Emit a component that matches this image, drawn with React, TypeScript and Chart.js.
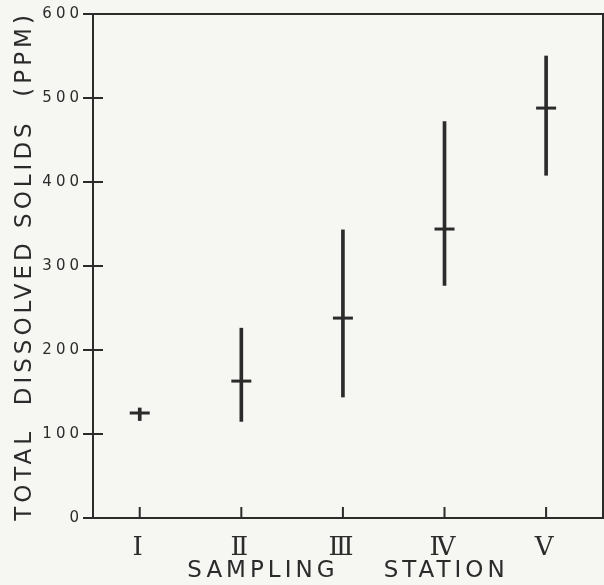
import React, { useEffect, useRef } from "react";
import { Chart, registerables } from "chart.js";

Chart.register(...registerables);

const STATIONS = ["Ⅰ", "Ⅱ", "Ⅲ", "Ⅳ", "Ⅴ"];
const MEAN = [125, 163, 238, 344, 488];
const LOW = [116, 115, 144, 277, 408];
const HIGH = [131, 226, 343, 472, 550];
const Y_TICKS = [0, 100, 200, 300, 400, 500, 600];

const INK = "#2b2b2b";
const PAPER = "#f6f6f3";

const framePlugin = {
  id: "frame",
  beforeDraw(chart: any) {
    const ctx = chart.ctx;
    ctx.save();
    ctx.fillStyle = PAPER;
    ctx.fillRect(0, 0, chart.width, chart.height);
    ctx.restore();
    ctx.letterSpacing = "4px";
  },
  afterDraw(chart: any) {
    const { ctx, chartArea, scales } = chart;
    ctx.save();
    ctx.strokeStyle = INK;
    ctx.lineWidth = 2;
    ctx.strokeRect(chartArea.left, chartArea.top, chartArea.right - chartArea.left, chartArea.bottom - chartArea.top);
    ctx.beginPath();
    Y_TICKS.forEach((v) => {
      if (v === 0 || v === 600) return;
      const y = scales.y.getPixelForValue(v);
      ctx.moveTo(chartArea.left, y);
      ctx.lineTo(chartArea.left + 10, y);
    });
    STATIONS.forEach((_, i) => {
      const x = scales.x.getPixelForValue(i + 1);
      ctx.moveTo(x, chartArea.bottom);
      ctx.lineTo(x, chartArea.bottom - 11);
    });
    ctx.stroke();
    ctx.restore();
  },
};

export default function App() {
  const ref = useRef<HTMLCanvasElement>(null);
  useEffect(() => {
    if (!ref.current) return;
    const chart = new Chart(ref.current, {
      type: "bar",
      data: {
        datasets: [
          {
            type: "bar",
            data: STATIONS.map((_, i) => ({ x: i + 1, y: [LOW[i], HIGH[i]] })) as any,
            backgroundColor: INK,
            borderWidth: 0,
            barThickness: 3,
          } as any,
          {
            type: "scatter",
            data: STATIONS.map((_, i) => ({ x: i + 1, y: MEAN[i] })),
            pointStyle: "line",
            pointRadius: 10,
            pointHoverRadius: 10,
            borderWidth: 3,
            borderColor: INK,
            backgroundColor: INK,
            showLine: false,
          } as any,
        ],
      },
      options: {
        responsive: false,
        animation: false,
        events: [],
        layout: { autoPadding: false, padding: { top: 14, right: 1, bottom: 0, left: 0 } },
        plugins: { legend: { display: false }, tooltip: { enabled: false } },
        scales: {
          x: {
            type: "linear",
            offset: false,
            min: 0.54,
            max: 5.56,
            afterBuildTicks: (axis: any) => {
              axis.ticks = STATIONS.map((_, i) => ({ value: i + 1 }));
            },
            afterFit: (axis: any) => {
              axis.height = 67;
              axis.paddingLeft = 0;
              axis.paddingRight = 0;
            },
            grid: { display: false, offset: false },
            border: { display: false },
            ticks: {
              autoSkip: false,
              maxRotation: 0,
              padding: 7,
              color: INK,
              font: { family: "DejaVu Serif", size: 26 },
              callback: (v: any) => STATIONS[Number(v) - 1] ?? "",
            },
            title: {
              display: true,
              text: "SAMPLING    STATION",
              color: INK,
              font: { family: "DejaVu Sans", size: 23 },
              padding: 0,
            },
          },
          y: {
            min: 0,
            max: 600,
            afterBuildTicks: (axis: any) => {
              axis.ticks = Y_TICKS.map((v) => ({ value: v }));
            },
            afterFit: (axis: any) => {
              axis.width = 93;
              axis.paddingTop = 0;
              axis.paddingBottom = 0;
            },
            grid: { drawOnChartArea: false, tickLength: 10, color: INK, lineWidth: 2 },
            border: { display: false },
            ticks: {
              padding: 0,
              color: INK,
              font: { family: "DejaVu Sans", size: 15 },
            },
            title: {
              display: true,
              text: "TOTAL  DISSOLVED SOLIDS  (PPM)",
              color: INK,
              font: { family: "DejaVu Sans", size: 23 },
              padding: { top: 11, bottom: 0 },
            },
          },
        },
      },
      plugins: [framePlugin],
    });
    return () => chart.destroy();
  }, []);
  return (
    <div style={{ position: "absolute", left: 0, top: 0, width: 604, height: 585 }}>
      <canvas ref={ref} width={604} height={585} />
    </div>
  );
}
